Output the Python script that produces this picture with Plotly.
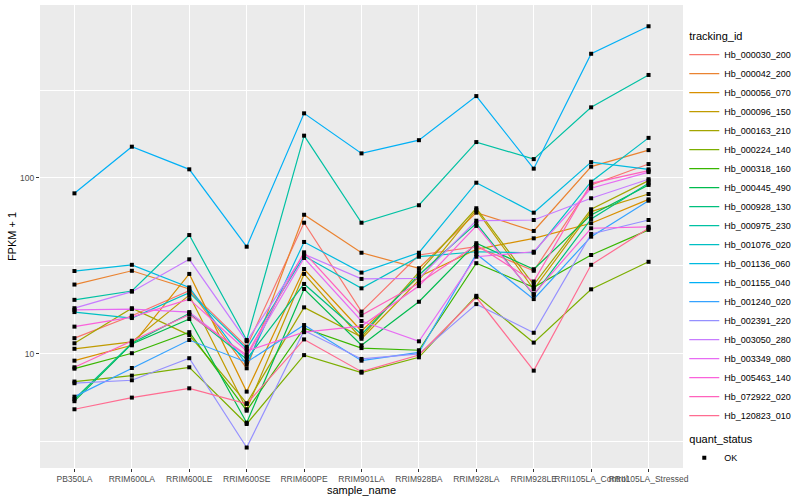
import plotly.graph_objects as go

samples = ["PB350LA", "RRIM600LA", "RRIM600LE", "RRIM600SE", "RRIM600PE", "RRIM901LA",
           "RRIM928BA", "RRIM928LA", "RRIM928LE", "RRII105LA_Control", "RRII105LA_Stressed"]

tracking_ids = ["Hb_000030_200", "Hb_000042_200", "Hb_000056_070", "Hb_000096_150",
                "Hb_000163_210", "Hb_000224_140", "Hb_000318_160", "Hb_000445_490",
                "Hb_000928_130", "Hb_000975_230", "Hb_001076_020", "Hb_001136_060",
                "Hb_001155_040", "Hb_001240_020", "Hb_002391_220", "Hb_003050_280",
                "Hb_003349_080", "Hb_005463_140", "Hb_072922_020", "Hb_120823_010"]

colors = ["#F8766D", "#EA8331", "#D89000", "#C09B00", "#A3A500", "#7CAE00", "#39B600",
          "#00BB4E", "#00BF7D", "#00C1A3", "#00BFC4", "#00BAE0", "#00B0F6", "#35A2FF",
          "#9590FF", "#C77CFF", "#E76BF3", "#FA62DB", "#FF62BC", "#FF6C91"]

# FPKM + 1 values, one list per tracking_id (order of samples)
Hb_000030_200 = [12.3, 16.5, 22.9, 11.0, 55.7, 17.4, 36.5, 40.7, 29.7, 91.2, 120]
Hb_000042_200 = [24.8, 29.7, 23.4, 8.29, 61.8, 37.6, 30.7, 63.5, 50.0, 116, 144]
Hb_000056_070 = [9.16, 11.2, 28.5, 6.11, 30.4, 13.5, 27.5, 39.3, 45.4, 55.3, 75.6]
Hb_000096_150 = [10.7, 11.7, 21.6, 4.85, 28.5, 12.2, 26.3, 65.8, 23.3, 64.4, 81.1]
Hb_000163_210 = [11.5, 18.2, 12.8, 5.25, 18.4, 12.5, 29.2, 67.3, 24.7, 66.4, 96.6]
Hb_000224_140 = [6.97, 7.53, 8.40, 4.00, 9.85, 7.83, 9.57, 21.4, 11.6, 23.3, 33.4]
Hb_000318_160 = [8.25, 10.1, 13.3, 4.76, 14.0, 10.8, 10.5, 32.8, 23.9, 36.5, 50.7]
Hb_000445_490 = [5.39, 11.4, 15.8, 4.07, 23.4, 11.2, 19.8, 42.6, 30.3, 61.7, 91.3]
Hb_000928_130 = [5.53, 11.5, 17.0, 9.34, 25.0, 12.9, 28.1, 55.3, 21.6, 58.5, 93.3]
Hb_000975_230 = [20.3, 22.8, 47.4, 12.0, 174, 55.7, 70.0, 160, 128, 252, 385]
Hb_001076_020 = [17.3, 16.0, 22.3, 10.7, 36.0, 23.6, 35.7, 38.1, 37.6, 95.3, 169]
Hb_001136_060 = [29.6, 32.1, 23.9, 8.74, 43.3, 29.0, 37.6, 94.0, 63.5, 123, 112]
Hb_001155_040 = [81.8, 150.6, 112, 40.7, 233, 138, 164, 292, 113, 508, 728]
Hb_001240_020 = [5.72, 8.32, 12.0, 8.98, 14.6, 9.16, 10.2, 37.0, 20.5, 46.4, 74.3]
Hb_002391_220 = [6.82, 7.09, 9.46, 2.94, 13.6, 9.37, 10.0, 19.2, 13.2, 48.1, 57.7]
Hb_003050_280 = [18.2, 22.6, 34.5, 11.8, 36.9, 26.7, 26.9, 57.2, 57.7, 76.7, 98.4]
Hb_003349_080 = [17.8, 18.0, 17.3, 9.66, 35.1, 15.4, 11.8, 35.7, 38.1, 87.4, 108]
Hb_005463_140 = [14.3, 16.2, 20.5, 10.4, 13.3, 14.4, 24.3, 53.4, 21.9, 51.8, 52.8]
Hb_072922_020 = [8.40, 11.9, 16.7, 9.87, 37.8, 16.6, 25.2, 41.6, 25.8, 93.3, 110]
Hb_120823_010 = [4.85, 5.65, 6.38, 5.20, 12.1, 7.93, 9.87, 21.0, 8.04, 32.1, 51.8]

series = [Hb_000030_200, Hb_000042_200, Hb_000056_070, Hb_000096_150, Hb_000163_210,
          Hb_000224_140, Hb_000318_160, Hb_000445_490, Hb_000928_130, Hb_000975_230,
          Hb_001076_020, Hb_001136_060, Hb_001155_040, Hb_001240_020, Hb_002391_220,
          Hb_003050_280, Hb_003349_080, Hb_005463_140, Hb_072922_020, Hb_120823_010]

y_ticks = [10, 100]
y_minor = [3.1623, 31.623, 316.23]

FONT = "Liberation Sans, Arial, sans-serif"

fig = go.Figure()
for i, (tid, vals, col) in enumerate(zip(tracking_ids, series, colors)):
    fig.add_trace(go.Scatter(
        x=samples, y=vals, mode="lines", name=tid,
        line=dict(color=col, width=1.2),
        legendgroup="tracking_id",
        legendgrouptitle=dict(text="tracking_id", font=dict(size=11, color="#000000")) if i == 0 else None,
    ))

all_x = [s for _ in series for s in samples]
all_y = [v for vals in series for v in vals]
fig.add_trace(go.Scatter(
    x=all_x, y=all_y, mode="markers", name="OK",
    marker=dict(symbol="square", size=4, color="#000000"),
    legendgroup="quant_status",
    legendgrouptitle=dict(text="quant_status", font=dict(size=11, color="#000000")),
))

fig.update_layout(
    width=800, height=500,
    margin=dict(l=40, r=117, t=5, b=32, autoexpand=False),
    paper_bgcolor="#FFFFFF",
    plot_bgcolor="#EBEBEB",
    font=dict(family=FONT, size=9, color="#000000"),
    showlegend=True,
    legend=dict(
        x=1.002, xanchor="left", y=0.965, yanchor="top",
        font=dict(size=9, color="#000000"),
        tracegroupgap=4, itemwidth=30,
        bgcolor="rgba(255,255,255,0)",
    ),
    xaxis=dict(
        type="category", categoryorder="array", categoryarray=samples,
        range=[-0.6, 10.6], automargin=False, tickangle=0,
        showgrid=True, gridcolor="#FFFFFF", gridwidth=1.1,
        zeroline=False, showline=False,
        ticks="outside", ticklen=3, tickcolor="#333333", tickwidth=1,
        tickfont=dict(size=8.5, color="#4D4D4D"),
        title=dict(text="sample_name", font=dict(size=11, color="#000000"), standoff=2),
    ),
    yaxis=dict(
        type="log", range=[0.352, 2.983], automargin=False,
        tickmode="array", tickvals=y_ticks, ticktext=[str(v) for v in y_ticks],
        showgrid=True, gridcolor="#FFFFFF", gridwidth=1.1,
        minor=dict(tickmode="array", tickvals=y_minor, showgrid=True,
                   gridcolor="#FFFFFF", gridwidth=0.5, ticks=""),
        zeroline=False, showline=False,
        ticks="outside", ticklen=3, tickcolor="#333333", tickwidth=1,
        tickfont=dict(size=8.5, color="#4D4D4D"),
        title=dict(text="FPKM + 1", font=dict(size=11, color="#000000"), standoff=1),
    ),
)

fig.write_html("out.html", config={"displayModeBar": False},
               post_script="document.body.style.margin='0';document.body.style.overflow='hidden';")
